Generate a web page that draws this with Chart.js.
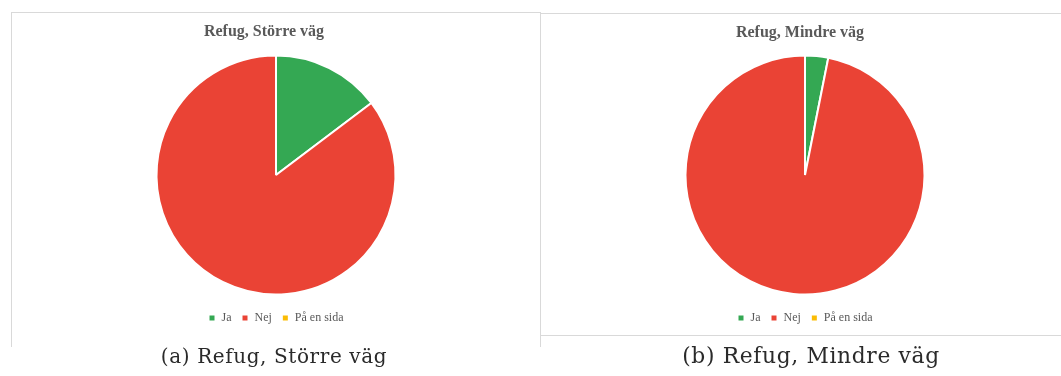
<!DOCTYPE html>
<html>
<head>
<meta charset="utf-8">
<script src="https://cdn.jsdelivr.net/npm/chart.js@4"></script>
<style>
  html, body { margin: 0; padding: 0; background: #fff; width: 1061px; height: 376px; overflow: hidden; position: relative; }
  .panel { position: absolute; box-sizing: content-box; border: 1px solid #d9d9d9; background: #fff; }
  #p1 { left: 11px; top: 12px; width: 528px; height: 334px; border-bottom: none; }
  #p2 { left: 540px; top: 13px; width: 528px; height: 321px; }
  .panel canvas { display: block; }
  .cap { position: absolute; font-family: "DejaVu Serif", serif; color: #2a2a2a; white-space: nowrap; transform: translateX(-50%); }
  #capA { left: 274px; top: 344px; font-size: 20px; letter-spacing: 0.6px; }
  #capB { left: 811px; top: 343px; font-size: 21.8px; letter-spacing: 0.65px; }
</style>
</head>
<body>
<div class="panel" id="p1"><canvas id="c1"></canvas></div>
<div class="panel" id="p2"><canvas id="c2"></canvas></div>
<div class="cap" id="capA">(a) Refug, Större väg</div>
<div class="cap" id="capB">(b) Refug, Mindre väg</div>
<script>
// Answer categories and counts per road type
const categories = ["Ja", "Nej", "På en sida"];
const colors = ["#34a853", "#ea4335", "#fbbc04"];
const storreVag = [5, 29, 0];
const mindreVag = [1, 31, 0];
const titles = ["Refug, Större väg", "Refug, Mindre väg"];

// Nudges the title sideways and the legend downwards after layout
const boxNudge = {
  id: "boxNudge",
  afterLayout(chart, args, opts) {
    const t = chart.titleBlock;
    if (t && opts.titleDx) { t.left += opts.titleDx; t.right += opts.titleDx; }
    const l = chart.legend;
    if (l && opts.legendDy) { l.top += opts.legendDy; l.bottom += opts.legendDy; }
  }
};

function makePie(id, w, h, values, title, titleGap, padBottom, titleDx) {
  const cv = document.getElementById(id);
  cv.width = w; cv.height = h;
  cv.style.width = w + "px"; cv.style.height = h + "px";
  return new Chart(cv, {
    type: "pie",
    data: {
      labels: categories,
      datasets: [{ data: values, backgroundColor: colors, borderColor: "#ffffff", borderWidth: 2 }]
    },
    plugins: [boxNudge],
    options: {
      responsive: false,
      animation: false,
      layout: { padding: { top: 0, bottom: padBottom, left: 0, right: 0 } },
      plugins: {
        boxNudge: { titleDx: titleDx, legendDy: 6.5 },
        tooltip: { enabled: false },
        title: {
          display: true,
          text: title,
          color: "#595959",
          font: { family: "Liberation Serif", size: 16, weight: "bold" },
          padding: { top: 9, bottom: titleGap }
        },
        legend: {
          position: "bottom",
          labels: {
            color: "#595959",
            font: { family: "Liberation Serif", size: 12 },
            usePointStyle: true,
            pointStyle: "rect",
            boxWidth: 7,
            boxHeight: 7,
            padding: 10
          }
        }
      }
    }
  });
}

makePie("c1", 528, 334, storreVag, titles[0], 13.3, 19.5, -12);
makePie("c2", 528, 321, mindreVag, titles[1], 12.3, 7.5, -5);
</script>
</body>
</html>
